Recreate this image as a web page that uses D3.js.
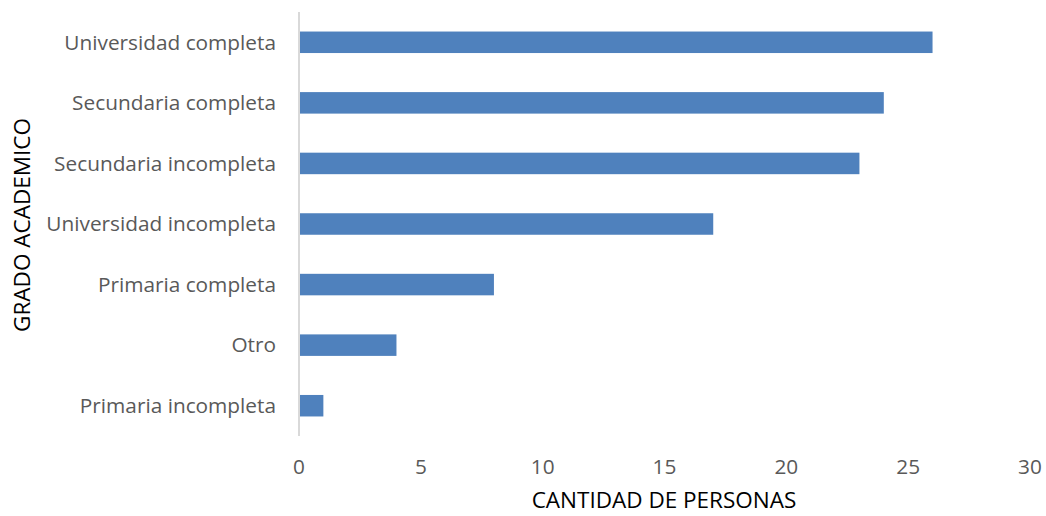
<!DOCTYPE html>
<html>
<head>
<meta charset="utf-8">
<script src="https://cdn.jsdelivr.net/npm/d3@7"></script>
<style>
  html, body { margin: 0; padding: 0; background: #fff; }
  svg { display: block; font-family: "Open Sans", sans-serif; }
</style>
</head>
<body>
<div id="chart"></div>
<script>
// categories listed top to bottom, as in the chart
const categories = [
  "Universidad completa",
  "Secundaria completa",
  "Secundaria incompleta",
  "Universidad incompleta",
  "Primaria completa",
  "Otro",
  "Primaria incompleta"
];
const values = [26, 24, 23, 17, 8, 4, 1];
const xTicks = [0, 5, 10, 15, 20, 25, 30];

const width = 1046, height = 516;
const margin = { top: 12, right: 16, bottom: 80, left: 299 };

const svg = d3.select("#chart")
  .append("svg")
  .attr("width", width)
  .attr("height", height);

const x = d3.scaleLinear()
  .domain([0, 30])
  .range([margin.left, width - margin.right]);

const y = d3.scaleBand()
  .domain(categories)
  .range([margin.top, height - margin.bottom])
  .paddingInner(0.645)
  .paddingOuter(0.3225);

// bars
svg.append("g")
  .selectAll("rect")
  .data(categories)
  .enter().append("rect")
  .attr("x", x(0))
  .attr("y", d => y(d))
  .attr("width", (d, i) => x(values[i]) - x(0))
  .attr("height", y.bandwidth())
  .attr("fill", "#4f81bd");

// vertical axis line
svg.append("line")
  .attr("x1", x(0)).attr("x2", x(0))
  .attr("y1", margin.top).attr("y2", height - margin.bottom)
  .attr("stroke", "#d9d9d9")
  .attr("stroke-width", 2);

// category labels
svg.append("g")
  .selectAll("text")
  .data(categories)
  .enter().append("text")
  .attr("x", x(0) - 23)
  .attr("y", d => y(d) + y.bandwidth() / 2)
  .attr("dy", "0.35em")
  .attr("text-anchor", "end")
  .attr("font-size", "20.8px")
  .attr("fill", "#595959")
  .text(d => d);

// x tick labels
svg.append("g")
  .selectAll("text")
  .data(xTicks)
  .enter().append("text")
  .attr("x", d => x(d))
  .attr("y", 467)
  .attr("dy", "0.35em")
  .attr("text-anchor", "middle")
  .attr("font-size", "20.8px")
  .attr("fill", "#595959")
  .text(d => d);

// axis titles
svg.append("text")
  .attr("x", 664)
  .attr("y", 508)
  .attr("text-anchor", "middle")
  .attr("font-size", "22.5px")
  .attr("fill", "#000")
  .text("CANTIDAD DE PERSONAS");

svg.append("text")
  .attr("transform", "translate(22,225) rotate(-90)")
  .attr("dy", "0.35em")
  .attr("text-anchor", "middle")
  .attr("font-size", "22.5px")
  .attr("fill", "#000")
  .text("GRADO ACADEMICO");
</script>
</body>
</html>
